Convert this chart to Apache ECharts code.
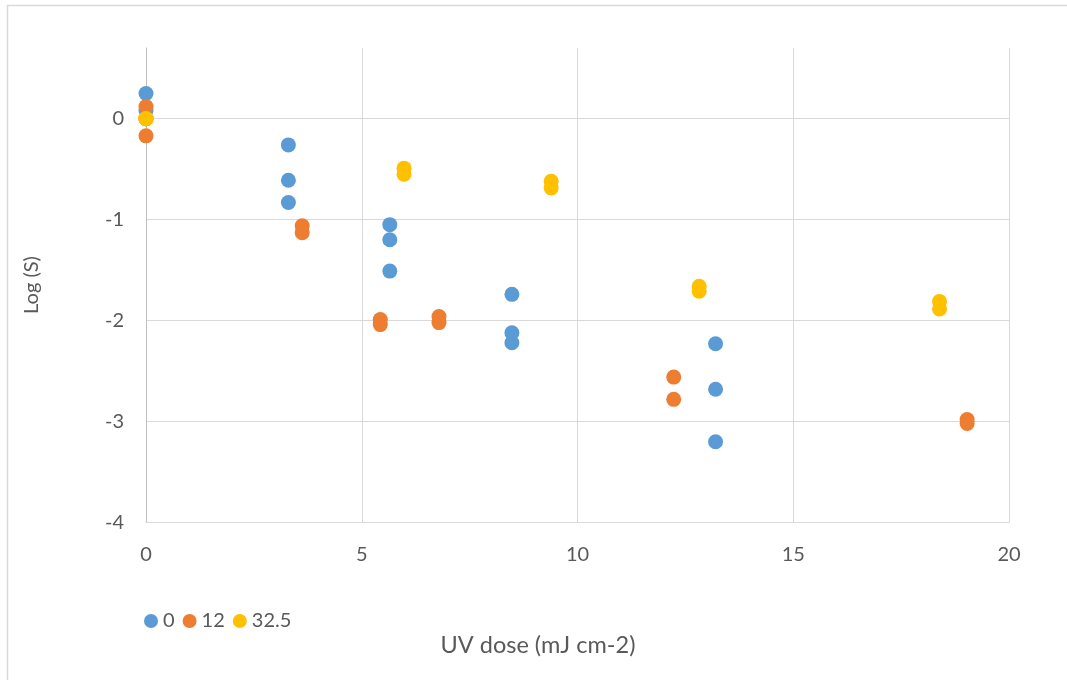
<!DOCTYPE html>
<html>
<head>
<meta charset="utf-8">
<script src="https://cdn.jsdelivr.net/npm/echarts@6/dist/echarts.min.js"></script>
<style>
  html, body { margin: 0; padding: 0; background: #fff; }
  #chart { width: 1067px; height: 680px; }
</style>
</head>
<body>
<div id="chart"></div>
<script>
// Survival (log S) against UV dose, one series per condition
const seriesNames = ['0', '12', '32.5'];

const dose0 = [0, 0, 0, 3.3, 3.3, 3.3, 5.65, 5.65, 5.65, 8.48, 8.48, 8.48, 13.2, 13.2, 13.2];
const logS0 = [0.25, 0.08, 0.0, -0.26, -0.61, -0.83, -1.05, -1.2, -1.51, -1.74, -2.12, -2.22, -2.23, -2.68, -3.2];

const dose12 = [0, 0, 0, 3.62, 3.62, 5.43, 5.43, 6.79, 6.79, 12.23, 12.23, 19.03, 19.03];
const logS12 = [0.12, 0.0, -0.17, -1.06, -1.13, -1.99, -2.04, -1.96, -2.02, -2.56, -2.78, -2.98, -3.02];

const dose32 = [0, 0, 0, 5.98, 5.98, 9.39, 9.39, 12.82, 12.82, 18.39, 18.39];
const logS32 = [0, 0, 0, -0.49, -0.55, -0.62, -0.685, -1.66, -1.71, -1.81, -1.885];

const yTicks = [-4, -3, -2, -1, 0];
const xTitle = 'UV dose (mJ cm-2)';
const yTitle = 'Log (S)';

const colors = ['#5B9BD5', '#ED7D31', '#FFC000'];
const FONT = 'Lato';
const TEXT = '#595959';

function pairs(xs, ys) { return xs.map((x, i) => [x, ys[i]]); }

function scatter(name, data) {
  return {
    name: name, type: 'scatter', symbol: 'circle', symbolSize: 15, clip: false,
    itemStyle: { opacity: 1 },
    emphasis: { disabled: true },
    data: data
  };
}

const chart = echarts.init(document.getElementById('chart'), null, { renderer: 'canvas' });

chart.setOption({
  animation: false,
  backgroundColor: '#fff',
  color: colors,
  textStyle: { fontFamily: FONT },
  grid: { left: 146, right: 58, top: 48, bottom: 157.5, containLabel: false },
  xAxis: {
    type: 'value', min: 0, max: 20, interval: 5,
    axisLine: { show: true, onZero: false, lineStyle: { color: '#d9d9d9', width: 1 } },
    axisTick: { show: false },
    axisLabel: { color: TEXT, fontSize: 20, fontFamily: FONT, margin: 22 },
    splitLine: { show: true, lineStyle: { color: '#d9d9d9', width: 1 } }
  },
  yAxis: {
    type: 'value', min: -4, max: 0.7, interval: 1,
    axisLine: { show: true, onZero: false, lineStyle: { color: '#bfbfbf', width: 1 } },
    axisTick: { show: false, customValues: yTicks },
    axisLabel: { color: TEXT, fontSize: 20, fontFamily: FONT, margin: 22, customValues: yTicks },
    splitLine: { show: true, lineStyle: { color: '#d9d9d9', width: 1 } }
  },
  legend: {
    left: 139, top: 606,
    icon: 'circle', itemWidth: 14, itemHeight: 14, itemGap: 8,
    textStyle: { color: TEXT, fontSize: 20, fontFamily: FONT },
    data: seriesNames
  },
  graphic: [
    { type: 'rect', silent: true, shape: { x: 7.5, y: 5.5, width: 1080, height: 700 },
      style: { fill: 'none', stroke: '#d9d9d9', lineWidth: 1.5 } },
    { type: 'text', x: 538, y: 645,
      style: { text: xTitle, fill: TEXT, font: '23.5px ' + FONT, align: 'center', verticalAlign: 'middle' } },
    { type: 'text', x: 32, y: 285, rotation: Math.PI / 2,
      style: { text: yTitle, fill: TEXT, font: '20px ' + FONT, align: 'center', verticalAlign: 'middle' } }
  ],
  series: [
    scatter(seriesNames[0], pairs(dose0, logS0)),
    scatter(seriesNames[1], pairs(dose12, logS12)),
    scatter(seriesNames[2], pairs(dose32, logS32))
  ]
});
</script>
</body>
</html>
